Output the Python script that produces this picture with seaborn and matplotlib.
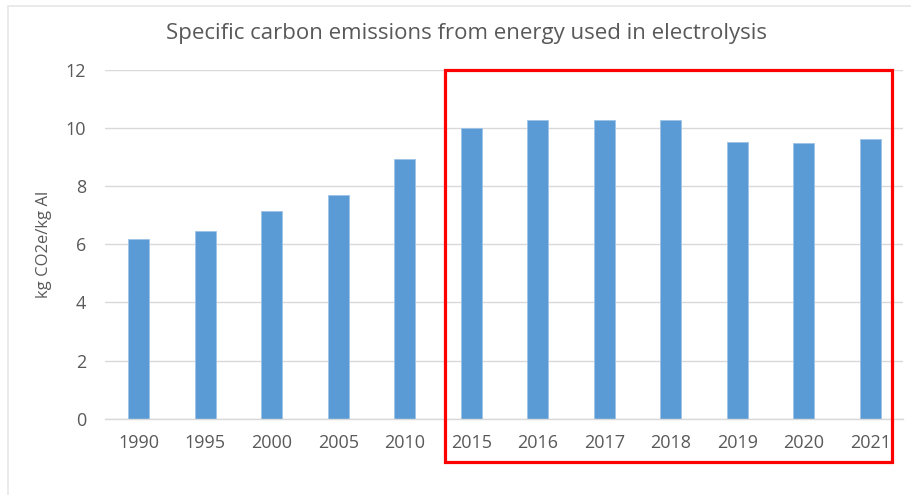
import seaborn as sns
import matplotlib.pyplot as plt
import pandas as pd
from matplotlib.patches import Rectangle

# Chart data
years = ["1990", "1995", "2000", "2005", "2010", "2015",
         "2016", "2017", "2018", "2019", "2020", "2021"]
emissions = [6.17, 6.47, 7.16, 7.70, 8.92, 10.01,
             10.29, 10.27, 10.27, 9.53, 9.50, 9.63]
y_ticks = [0, 2, 4, 6, 8, 10, 12]

df = pd.DataFrame({"year": years, "value": emissions})

sns.set_theme(style="white")
plt.rcParams["font.family"] = ["Open Sans", "DejaVu Sans"]

text_col = "#595959"
grid_col = "#D9D9D9"

fig = plt.figure(figsize=(9.12, 4.95), dpi=100)
ax = fig.add_axes([105.5 / 912, 1 - 418.7 / 495, 798 / 912, (418.7 - 70) / 495])

sns.barplot(data=df, x="year", y="value", color="#5B9BD5", saturation=1,
            width=0.31, edgecolor="#9DC3E6", linewidth=0.6, ax=ax)

ax.set_ylim(0, 12)
ax.set_yticks(y_ticks)
ax.set_xlim(-0.5, len(years) - 0.5)
ax.yaxis.grid(True, color=grid_col, linewidth=1.0)
ax.set_axisbelow(True)
for side in ["top", "right", "left"]:
    ax.spines[side].set_visible(False)
ax.spines["bottom"].set_color(grid_col)
ax.spines["bottom"].set_linewidth(1.0)
ax.tick_params(axis="y", length=0, pad=14, labelsize=13, labelcolor=text_col)
ax.tick_params(axis="x", length=0, pad=11, labelsize=13, labelcolor=text_col)
ax.set_xlabel("")
ax.set_ylabel("kg CO2e/kg Al", fontsize=12, color=text_col, labelpad=10)

fig.text(0.512, 1 - 33 / 495, "Specific carbon emissions from energy used in electrolysis",
         ha="center", va="center", fontsize=16, color=text_col)

# Highlight box round the recent years
ax.add_patch(Rectangle((4.61, -1.5), 6.72, 13.5, fill=False, edgecolor="#FF0000",
                       linewidth=2.3, clip_on=False, zorder=5))

# Chart-area border
fig.patches.append(Rectangle((8.5 / 912, -0.1), 1.1, 1 - 6.5 / 495 + 0.1, fill=False,
                             edgecolor="#E6E6E6", linewidth=1.2,
                             transform=fig.transFigure, figure=fig))

fig.savefig("out.png", dpi=100)
